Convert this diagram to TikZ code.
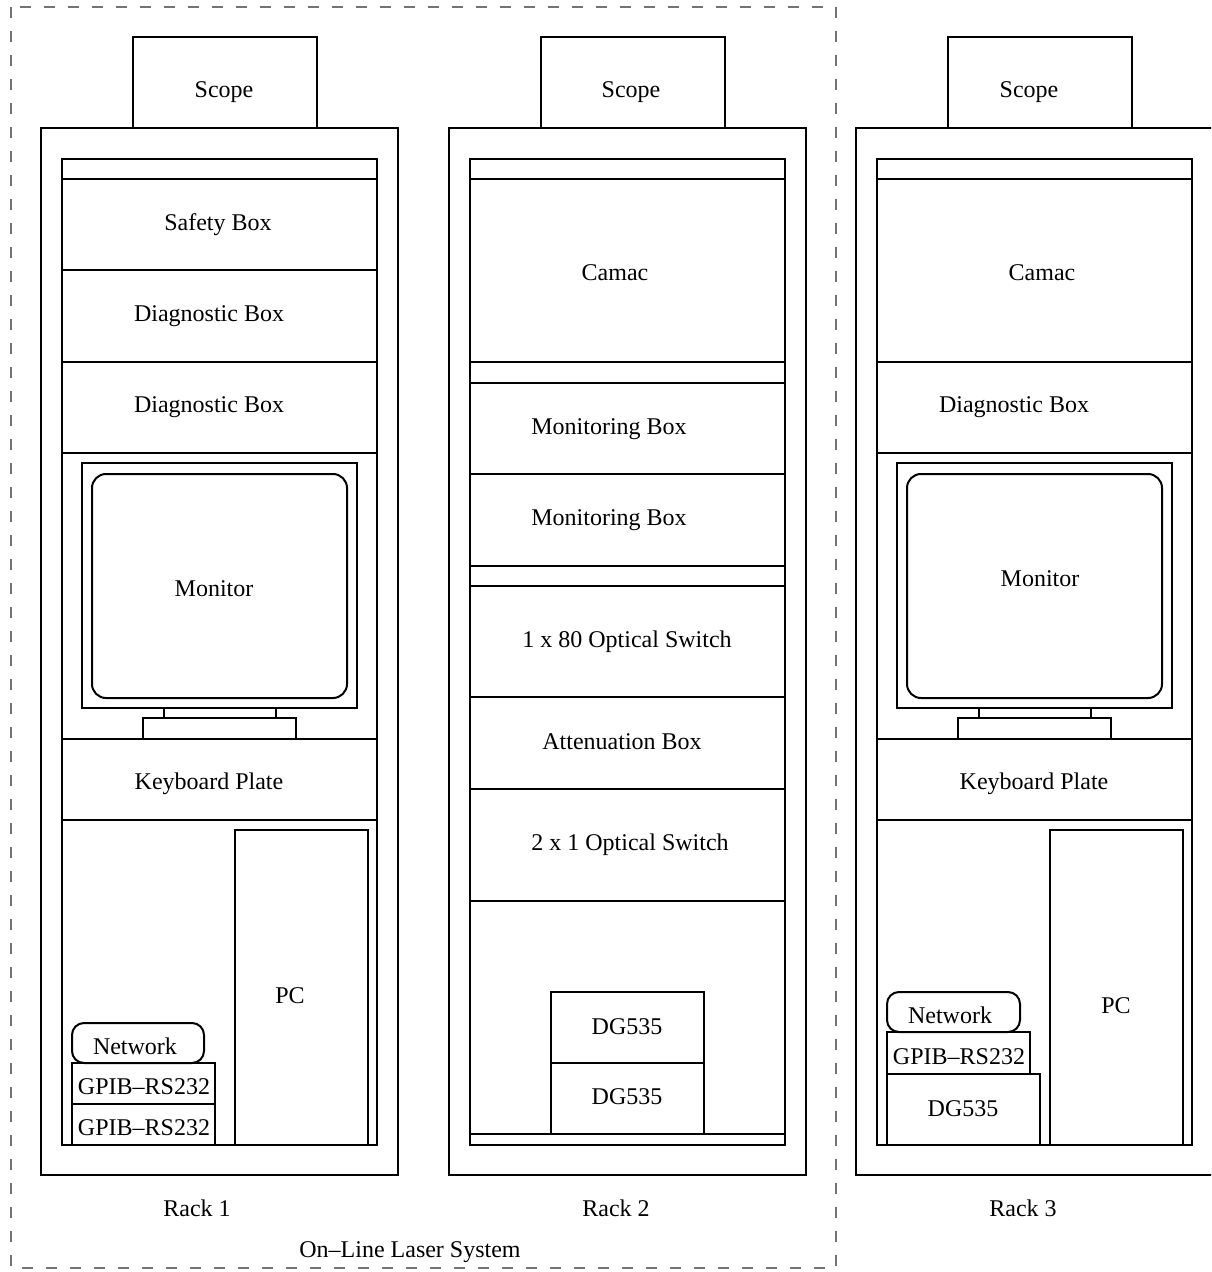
\documentclass[tikz,border=0pt]{standalone}
\usepackage{fontspec}
\setmainfont{Liberation Serif}
\usetikzlibrary{positioning}

\begin{document}
\begin{tikzpicture}[x=0.5pt,y=-0.5pt,line width=1pt,
  txt/.style={anchor=base,inner sep=0pt,font=\fontsize{12}{14}\selectfont},
  group/.style={draw=black!55,line width=0.75pt,dash pattern=on 5.5pt off 6.5pt}]
  \useasboundingbox (0,0) rectangle (1211,1272);
  \clip (0,0) rectangle (1211,1272);

  % dashed frame round racks 1 and 2
  \draw[group] (11,7) rectangle (836,1268);

  % rack frames, scopes and top strips
  \foreach \dx in {0,408,815} {
    \draw (41+\dx,128) rectangle ++(357,1047);
    \draw (133+\dx,37) rectangle ++(184,91);
    \draw (62+\dx,159) rectangle ++(315,986);
    \draw (62+\dx,179) -- ++(315,0);
  }

  % monitors (racks 1 and 3)
  \foreach \dx in {0,815} {
    \draw (82+\dx,463) rectangle (357+\dx,708);
    \draw[rounded corners=7pt] (92+\dx,474) rectangle (347+\dx,698);
    \draw (164+\dx,708) rectangle (276+\dx,718);
    \draw (143+\dx,718) rectangle (296+\dx,739);
  }

  % rack 1
  \foreach \y in {270,362,453,739,820}
    \draw (62,\y) -- (377,\y);
  \draw (235,830) rectangle (368,1145);
  \draw[rounded corners=6pt] (72,1023) rectangle (204,1063);
  \draw (72,1063) rectangle (215,1104);
  \draw (72,1104) rectangle (215,1145);

  \node[txt] (scope1) at (224,98) {Scope};
  \node[txt] (safety) at (218,231) {Safety Box};
  \node[txt] (diag1a) at (209,322) {Diagnostic Box};
  \node[txt] (diag1b) at (209,413) {Diagnostic Box};
  \node[txt] (mon1) at (214,596) {Monitor};
  \node[txt] (kbd1) at (209,789) {Keyboard Plate};
  \node[txt] (pc1) at (290,1003) {PC};
  \node[txt] (net1) at (135,1054) {Network};
  \node[txt] (gpib1a) at (144,1094) {GPIB–RS232};
  \node[txt] (gpib1b) at (144,1135) {GPIB–RS232};

  % rack 2
  \foreach \y in {362,383,474,566,586,697,789,901,1134}
    \draw (469,\y) -- (785,\y);
  \draw (551,992) rectangle (704,1063);
  \draw (551,1063) rectangle (704,1134);

  \node[txt] (scope2) at (631,98) {Scope};
  \node[txt] (camac2) at (615,281) {Camac};
  \node[txt] (mbox1) at (609,434) {Monitoring Box};
  \node[txt] (mbox2) at (609,525) {Monitoring Box};
  \node[txt] (osw80) at (627,647) {1 x 80 Optical Switch};
  \node[txt] (atten) at (622,749) {Attenuation Box};
  \node[txt] (osw2) at (630,850) {2 x 1 Optical Switch};
  \node[txt] (dg2a) at (627,1034) {DG535};
  \node[txt] (dg2b) at (627,1104) {DG535};

  % rack 3
  \foreach \y in {362,453,739,820}
    \draw (877,\y) -- (1192,\y);
  \draw (1050,830) rectangle (1183,1145);
  \draw[rounded corners=6pt] (887,992) rectangle (1020,1032);
  \draw (887,1032) rectangle (1030,1074);
  \draw (887,1074) rectangle (1040,1145);

  \node[txt] (scope3) at (1029,98) {Scope};
  \node[txt] (camac3) at (1042,281) {Camac};
  \node[txt] (diag3) at (1014,413) {Diagnostic Box};
  \node[txt] (mon3) at (1040,586) {Monitor};
  \node[txt] (kbd3) at (1034,789) {Keyboard Plate};
  \node[txt] (pc3) at (1116,1013) {PC};
  \node[txt] (net3) at (950,1023) {Network};
  \node[txt] (gpib3) at (959,1064) {GPIB–RS232};
  \node[txt] (dg3) at (963,1116) {DG535};

  % labels
  \node[txt] (rack1) at (197,1216) {Rack 1};
  \node[txt] (rack2) at (616,1216) {Rack 2};
  \node[txt] (rack3) at (1023,1216) {Rack 3};
  \node[txt] (online) at (410,1257) {On–Line Laser System};
\end{tikzpicture}
\end{document}
